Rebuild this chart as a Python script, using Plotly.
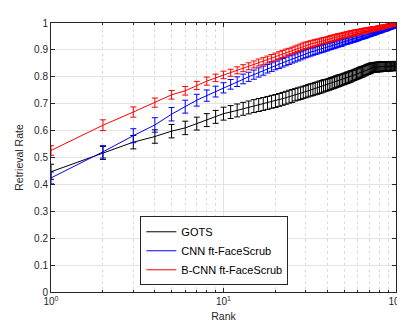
import plotly.graph_objects as go

ranks = list(range(1, 101))

gots = [0.447, 0.517, 0.557, 0.578, 0.598, 0.610, 0.626, 0.639, 0.651, 0.663,
        0.669, 0.675, 0.681, 0.686, 0.691, 0.695, 0.699, 0.703, 0.707, 0.710,
        0.714, 0.718, 0.722, 0.726, 0.729, 0.733, 0.736, 0.739, 0.742, 0.745,
        0.748, 0.751, 0.753, 0.756, 0.758, 0.761, 0.763, 0.766, 0.768, 0.770,
        0.772, 0.775, 0.777, 0.779, 0.782, 0.784, 0.786, 0.788, 0.790, 0.792,
        0.794, 0.796, 0.798, 0.800, 0.802, 0.804, 0.806, 0.808, 0.810, 0.812,
        0.814, 0.816, 0.818, 0.819, 0.821, 0.823, 0.825, 0.827, 0.828, 0.830,
        0.831, 0.833, 0.834, 0.835, 0.835, 0.836, 0.836, 0.836, 0.837, 0.837,
        0.837, 0.837, 0.838, 0.838, 0.838, 0.838, 0.838, 0.839, 0.839, 0.839,
        0.839, 0.839, 0.839, 0.840, 0.840, 0.840, 0.840, 0.840, 0.840, 0.840]

cnn = [0.424, 0.521, 0.581, 0.621, 0.661, 0.689, 0.713, 0.730, 0.745, 0.759,
       0.772, 0.782, 0.792, 0.800, 0.808, 0.816, 0.823, 0.830, 0.836, 0.842,
       0.847, 0.852, 0.857, 0.862, 0.866, 0.870, 0.874, 0.878, 0.882, 0.886,
       0.889, 0.892, 0.894, 0.897, 0.899, 0.902, 0.904, 0.906, 0.909, 0.911,
       0.913, 0.915, 0.917, 0.919, 0.921, 0.923, 0.925, 0.926, 0.928, 0.930,
       0.932, 0.933, 0.935, 0.937, 0.938, 0.940, 0.941, 0.943, 0.944, 0.946,
       0.947, 0.949, 0.950, 0.951, 0.953, 0.954, 0.955, 0.957, 0.958, 0.959,
       0.960, 0.962, 0.963, 0.964, 0.965, 0.966, 0.967, 0.969, 0.970, 0.971,
       0.972, 0.973, 0.974, 0.975, 0.976, 0.977, 0.978, 0.979, 0.980, 0.981,
       0.982, 0.983, 0.984, 0.985, 0.986, 0.987, 0.988, 0.988, 0.989, 0.990]

bcnn = [0.526, 0.620, 0.669, 0.704, 0.733, 0.748, 0.768, 0.784, 0.796, 0.807,
        0.815, 0.824, 0.832, 0.839, 0.846, 0.853, 0.858, 0.864, 0.870, 0.875,
        0.880, 0.885, 0.890, 0.894, 0.898, 0.902, 0.906, 0.910, 0.914, 0.917,
        0.919, 0.922, 0.924, 0.926, 0.928, 0.930, 0.933, 0.935, 0.936, 0.938,
        0.940, 0.942, 0.944, 0.945, 0.947, 0.949, 0.950, 0.952, 0.953, 0.955,
        0.956, 0.957, 0.958, 0.960, 0.961, 0.962, 0.963, 0.964, 0.965, 0.966,
        0.967, 0.968, 0.969, 0.970, 0.971, 0.972, 0.972, 0.973, 0.974, 0.975,
        0.976, 0.977, 0.977, 0.978, 0.979, 0.980, 0.980, 0.981, 0.982, 0.983,
        0.983, 0.984, 0.985, 0.986, 0.986, 0.987, 0.988, 0.988, 0.989, 0.990,
        0.990, 0.991, 0.992, 0.992, 0.993, 0.994, 0.994, 0.995, 0.995, 0.996]

gots_err = [0.028, 0.024, 0.025, 0.025, 0.025, 0.025, 0.024, 0.024, 0.024, 0.024,
            0.024, 0.024, 0.024, 0.024, 0.024, 0.024, 0.024, 0.024, 0.024, 0.024,
            0.024, 0.024, 0.024, 0.024, 0.024, 0.023, 0.023, 0.023, 0.023, 0.023,
            0.023, 0.023, 0.023, 0.023, 0.023, 0.023, 0.023, 0.023, 0.022, 0.022,
            0.022, 0.022, 0.022, 0.022, 0.022, 0.022, 0.022, 0.021, 0.021, 0.021,
            0.021, 0.021, 0.021, 0.021, 0.021, 0.020, 0.020, 0.020, 0.020, 0.020,
            0.020, 0.020, 0.020, 0.020, 0.019, 0.019, 0.019, 0.019, 0.019, 0.019,
            0.019, 0.019, 0.018, 0.018, 0.018, 0.018, 0.018, 0.018, 0.018, 0.018,
            0.018, 0.018, 0.017, 0.017, 0.017, 0.017, 0.017, 0.017, 0.017, 0.017,
            0.017, 0.017, 0.017, 0.017, 0.017, 0.017, 0.017, 0.017, 0.017, 0.017]

cnn_err = [0.022, 0.023, 0.026, 0.027, 0.025, 0.024, 0.022, 0.021, 0.020, 0.019,
           0.018, 0.018, 0.018, 0.017, 0.017, 0.017, 0.017, 0.016, 0.016, 0.016,
           0.016, 0.016, 0.016, 0.016, 0.015, 0.015, 0.015, 0.015, 0.015, 0.015,
           0.015, 0.015, 0.014, 0.014, 0.014, 0.014, 0.014, 0.014, 0.014, 0.014,
           0.013, 0.013, 0.013, 0.013, 0.013, 0.013, 0.013, 0.013, 0.013, 0.012,
           0.012, 0.012, 0.012, 0.012, 0.012, 0.012, 0.012, 0.012, 0.012, 0.012,
           0.011, 0.011, 0.011, 0.011, 0.011, 0.011, 0.011, 0.010, 0.010, 0.010,
           0.010, 0.010, 0.010, 0.010, 0.010, 0.009, 0.009, 0.009, 0.009, 0.009,
           0.009, 0.009, 0.008, 0.008, 0.008, 0.008, 0.008, 0.008, 0.008, 0.007,
           0.007, 0.007, 0.007, 0.007, 0.007, 0.006, 0.006, 0.006, 0.006, 0.006]

bcnn_err = [0.018, 0.020, 0.019, 0.017, 0.016, 0.016, 0.015, 0.015, 0.014, 0.014,
            0.013, 0.013, 0.013, 0.013, 0.013, 0.013, 0.013, 0.013, 0.013, 0.013,
            0.013, 0.013, 0.013, 0.012, 0.012, 0.012, 0.012, 0.012, 0.012, 0.012,
            0.012, 0.012, 0.012, 0.012, 0.012, 0.011, 0.011, 0.011, 0.011, 0.011,
            0.011, 0.011, 0.011, 0.011, 0.011, 0.011, 0.010, 0.010, 0.010, 0.010,
            0.010, 0.010, 0.010, 0.010, 0.010, 0.010, 0.010, 0.010, 0.009, 0.009,
            0.009, 0.009, 0.009, 0.009, 0.009, 0.009, 0.009, 0.008, 0.008, 0.008,
            0.008, 0.008, 0.008, 0.008, 0.008, 0.007, 0.007, 0.007, 0.007, 0.007,
            0.007, 0.007, 0.007, 0.006, 0.006, 0.006, 0.006, 0.006, 0.006, 0.006,
            0.006, 0.005, 0.005, 0.005, 0.005, 0.005, 0.005, 0.005, 0.005, 0.005]

series_names = ["GOTS", "CNN ft-FaceScrub", "B-CNN ft-FaceScrub"]
series_vals = [gots, cnn, bcnn]
series_errs = [gots_err, cnn_err, bcnn_err]
series_colors = ["#000000", "#0000ff", "#ff0000"]

x_tickvals = [1, 10, 100]
x_ticktext = ["10<sup>0</sup>", "10<sup>1</sup>", "10<sup>2</sup>"]
x_minor_tickvals = [2, 3, 4, 5, 6, 7, 8, 9, 20, 30, 40, 50, 60, 70, 80, 90]
y_tickvals = [0, 0.1, 0.2, 0.3, 0.4, 0.5, 0.6, 0.7, 0.8, 0.9, 1]
y_ticktext = ["0", "0.1", "0.2", "0.3", "0.4", "0.5", "0.6", "0.7", "0.8", "0.9", "1"]

fig = go.Figure()
for name, vals, errs, col in zip(series_names, series_vals, series_errs, series_colors):
    fig.add_trace(go.Scatter(
        x=ranks, y=vals, mode="lines", name=name,
        line=dict(color=col, width=1),
        error_y=dict(type="data", array=errs, visible=True, color=col,
                     thickness=1, width=3),
    ))

axis_color = "#262626"
fig.update_layout(
    width=405, height=322,
    margin=dict(l=43, r=9, t=9, b=38),
    paper_bgcolor="white", plot_bgcolor="white",
    font=dict(family="Liberation Sans, Arial, sans-serif", size=10, color=axis_color),
    showlegend=True,
    legend=dict(
        x=0.259, y=0.025, xanchor="left", yanchor="bottom",
        bgcolor="white", bordercolor=axis_color, borderwidth=1,
        font=dict(size=11, color="#000000"),
        itemwidth=30, tracegroupgap=0,
    ),
    xaxis=dict(
        type="log", range=[0, 2],
        tickmode="array", tickvals=x_tickvals, ticktext=x_ticktext,
        ticks="inside", ticklen=4, tickcolor=axis_color,
        showline=True, linecolor=axis_color, linewidth=1, mirror="ticks",
        showgrid=True, gridcolor="#e3e3e3", gridwidth=1,
        minor=dict(tickmode="array", tickvals=x_minor_tickvals,
                   showgrid=True, gridcolor="#dcdcdc", griddash="dot",
                   ticks="inside", ticklen=2, tickcolor=axis_color),
        zeroline=False,
        title=dict(text="Rank", font=dict(size=10.5), standoff=6),
        tickfont=dict(size=10),
    ),
    yaxis=dict(
        range=[0, 1],
        tickmode="array", tickvals=y_tickvals, ticktext=y_ticktext,
        ticks="inside", ticklen=4, tickcolor=axis_color,
        showline=True, linecolor=axis_color, linewidth=1, mirror="ticks",
        showgrid=True, gridcolor="#e3e3e3", gridwidth=1,
        zeroline=False,
        title=dict(text="Retrieval Rate", font=dict(size=10.5), standoff=8),
        tickfont=dict(size=10),
    ),
)

fig.write_html("out.html")
